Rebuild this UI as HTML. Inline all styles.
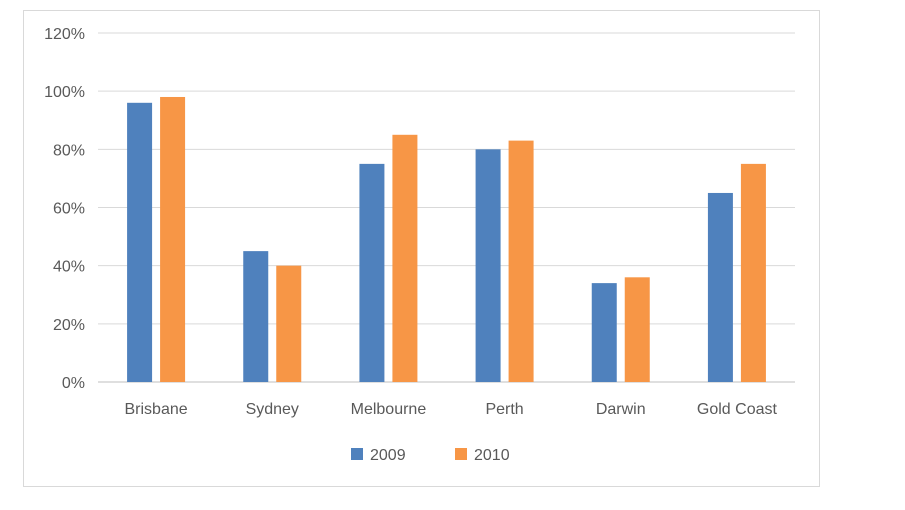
<!DOCTYPE html>
<html><head><meta charset="utf-8"><style>
body{margin:0;background:#fff;width:905px;height:505px;overflow:hidden;font-family:"Liberation Sans",sans-serif}
</style></head><body>
<svg width="905" height="505">
<rect x="23.5" y="10.5" width="796" height="476" fill="#fff" stroke="#d9d9d9"/>
<g id="grid"></g><g id="bars"></g><g id="labels"></g>
<g>
<rect x="351" y="448" width="12" height="12" fill="#4f81bd"/>
<text x="370" y="460" font-size="16" fill="#595959">2009</text>
<rect x="455" y="448" width="12" height="12" fill="#f79646"/>
<text x="474" y="460" font-size="16" fill="#595959">2010</text>
</g>
</svg>
<script>
const categories=["Brisbane","Sydney","Melbourne","Perth","Darwin","Gold Coast"];
const series2009=[96,45,75,80,34,65];
const series2010=[98,40,85,83,36,75];
const yTicks=[0,20,40,60,80,100,120];
const NS="http://www.w3.org/2000/svg";
const x0=98,x1=795,yBase=382,yTop=33;
const y=v=>yBase-(v/120)*(yBase-yTop);
const bw=(x1-x0)/categories.length;
const cx=i=>x0+bw*(i+0.5);
function mk(tag,attrs,parent){const e=document.createElementNS(NS,tag);for(const k in attrs)e.setAttribute(k,attrs[k]);document.getElementById(parent).appendChild(e);return e;}
yTicks.forEach(t=>{
 const l=mk('line',{x1:x0,x2:x1,y1:y(t),y2:y(t),stroke:t===0?'#bfbfbf':'#d9d9d9','stroke-width':1},'grid');
 
 
 const tx=mk('text',{x:85,y:y(t)+6,'text-anchor':'end','font-size':16,fill:'#595959'},'labels');
 tx.textContent=t+'%';
 
 
});
categories.forEach((c,i)=>{
 const b1=mk('rect',{x:cx(i)-29,y:y(series2009[i]),width:25,height:yBase-y(series2009[i]),fill:'#4f81bd'},'bars');
 
 
 const b2=mk('rect',{x:cx(i)+4,y:y(series2010[i]),width:25,height:yBase-y(series2010[i]),fill:'#f79646'},'bars');
 
 
 const t=mk('text',{x:cx(i),y:414,'text-anchor':'middle','font-size':16,fill:'#595959'},'labels');
 t.textContent=c;
 
 
});
</script>
</body></html>
